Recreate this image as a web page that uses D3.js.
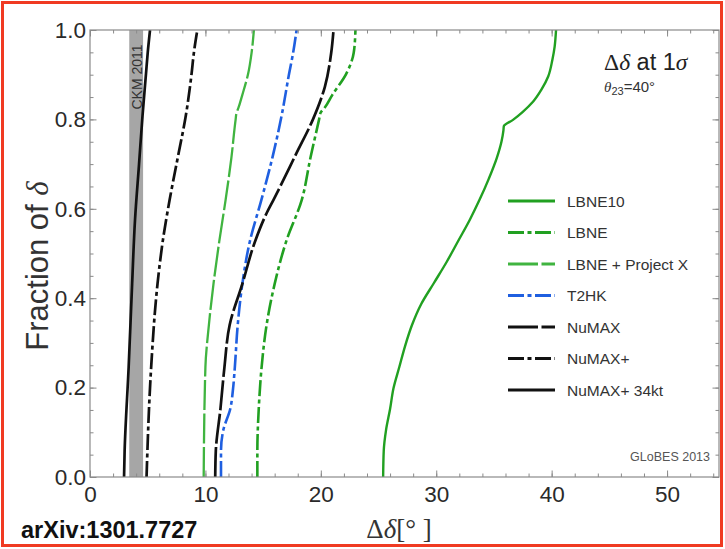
<!DOCTYPE html>
<html>
<head>
<meta charset="utf-8">
<script src="https://cdn.jsdelivr.net/npm/d3@7"></script>
<style>
body { margin: 0; background: #fff; }
svg { display: block; }
</style>
</head>
<body>
<div id="space" style="width:725px;height:549px;"></div>
<script>
// ---- data ----
var xTicks = [0, 10, 20, 30, 40, 50];
var yTicks = [0, 0.2, 0.4, 0.6, 0.8, 1.0];
var ckmBand = [3.4, 4.6];

var seriesNames = ["LBNE10", "LBNE", "LBNE + Project X", "T2HK", "NuMAX", "NuMAX+", "NuMAX+ 34kt"];

// [fraction of delta, delta delta (deg)]
var lbne10 = [[0, 25.4], [0.058, 25.45], [0.105, 25.65], [0.152, 26.0], [0.199, 26.3], [0.246, 26.8],
    [0.293, 27.3], [0.34, 27.9], [0.387, 28.7], [0.434, 29.8], [0.481, 30.9], [0.528, 31.9],
    [0.575, 32.9], [0.62, 33.75], [0.667, 34.55], [0.714, 35.25], [0.75, 35.65], [0.775, 35.82],
    [0.785, 35.86], [0.799, 36.65], [0.817, 37.5], [0.84, 38.4], [0.866, 39.1], [0.896, 39.7],
    [0.933, 40.06], [0.963, 40.26], [1.0, 40.38]];
var lbne = [[0, 14.5], [0.058, 14.5], [0.152, 14.62], [0.246, 14.87], [0.34, 15.3], [0.432, 16.0],
    [0.527, 17.0], [0.62, 18.35], [0.714, 19.1], [0.8, 19.85], [0.815, 19.98], [0.825, 20.3],
    [0.855, 21.0], [0.902, 22.2], [0.949, 22.85], [1.0, 23.0]];
var lbnePX = [[0, 9.85], [0.246, 10.0], [0.34, 10.3], [0.432, 10.7], [0.527, 11.2], [0.62, 11.75],
    [0.714, 12.25], [0.8, 12.62], [0.815, 12.7], [0.825, 12.85], [0.855, 13.2], [0.902, 13.7],
    [0.949, 14.0], [1.0, 14.2]];
var t2hk = [[0, 11.35], [0.058, 11.35], [0.105, 11.55], [0.152, 12.15], [0.199, 12.4], [0.246, 12.55],
    [0.34, 12.8], [0.432, 13.2], [0.527, 13.85], [0.62, 14.85], [0.714, 15.8], [0.808, 16.6],
    [0.902, 17.25], [0.949, 17.6], [1.0, 17.9]];
var numax = [[0, 10.85], [0.058, 10.9], [0.152, 11.3], [0.246, 11.65], [0.34, 12.1], [0.432, 13.2],
    [0.527, 14.3], [0.59, 15.3], [0.62, 15.9], [0.725, 17.9], [0.799, 19.3], [0.873, 20.35],
    [0.949, 20.9], [1.0, 21.1]];
var numaxPlus = [[0, 4.9], [0.246, 5.3], [0.432, 5.85], [0.527, 6.3], [0.62, 6.9], [0.714, 7.6],
    [0.808, 8.3], [0.902, 8.8], [0.949, 9.0], [1.0, 9.3]];
var numax34 = [[0, 2.95], [0.058, 3.0], [0.246, 3.35], [0.432, 3.65], [0.575, 3.9], [0.7, 4.25],
    [0.808, 4.55], [0.902, 4.85], [0.949, 5.0], [1.0, 5.2]];

var seriesData = [lbne10, lbne, lbnePX, t2hk, numax, numaxPlus, numax34];

// ---- styles ----
var dashDot = "16,3.5,4,3.5";
var longDash = "30,3.5";
var seriesStyle = [
    { color: "#21a021", dash: null, width: 2.4 },
    { color: "#21a021", dash: dashDot, width: 2.6 },
    { color: "#40b440", dash: longDash, width: 2.3 },
    { color: "#1f5fe0", dash: dashDot, width: 2.6 },
    { color: "#111111", dash: longDash, width: 2.7 },
    { color: "#111111", dash: dashDot, width: 2.7 },
    { color: "#111111", dash: null, width: 2.7 }
];

var svg, plot, x, y;
var margin = { left: 90, right: 719, top: 30, bottom: 477 };
var sans = "Liberation Sans, Arial, sans-serif";
var serif = "Liberation Serif, serif";

init();

function init() {
    initSvg();
    initScales();
    drawBand();
    drawCurves();
    drawAxes();
    drawTexts();
    drawLegend();
}

function initSvg() {
    svg = d3.select("#space").append("svg")
        .attr("xmlns", "http://www.w3.org/2000/svg")
        .attr("width", 725)
        .attr("height", 549);

    svg.append("rect").attr("width", 725).attr("height", 549).attr("fill", "#fff");

    //red frame round the slide picture
    svg.append("rect")
        .attr("x", 2.5).attr("y", 2.5)
        .attr("width", 719).attr("height", 543)
        .attr("fill", "none")
        .attr("stroke", "#f03a22")
        .attr("stroke-width", 3);

    svg.append("defs").append("clipPath").attr("id", "clip")
        .append("rect")
        .attr("x", margin.left).attr("y", margin.top)
        .attr("width", margin.right - margin.left)
        .attr("height", margin.bottom - margin.top);

    plot = svg.append("g").attr("clip-path", "url(#clip)");
}

function initScales() {
    x = d3.scaleLinear().domain([0, 54.5]).range([margin.left, margin.right]);
    y = d3.scaleLinear().domain([0, 1]).range([margin.bottom, margin.top]);
}

function drawBand() {
    plot.append("rect")
        .attr("x", x(ckmBand[0]))
        .attr("y", y(1))
        .attr("width", x(ckmBand[1]) - x(ckmBand[0]))
        .attr("height", y(0) - y(1))
        .attr("fill", "#a6a6a6");

    svg.append("text")
        .attr("transform", "translate(" + (x((ckmBand[0] + ckmBand[1]) / 2) + 6) + "," + 77 + ") rotate(-90)")
        .attr("text-anchor", "middle")
        .attr("font-family", sans)
        .attr("font-size", 14)
        .attr("fill", "#333")
        .text("CKM 2011");
}

function drawCurves() {
    var line = d3.line()
        .x(function (d) { return x(d[1]); })
        .y(function (d) { return y(d[0]); })
        .curve(d3.curveMonotoneY);

    for (var i = 0; i < seriesData.length; i++) {
        var st = seriesStyle[i];
        plot.append("path")
            .datum(seriesData[i])
            .attr("d", line)
            .attr("fill", "none")
            .attr("stroke", st.color)
            .attr("stroke-width", st.width)
            .attr("stroke-dasharray", st.dash);
    }
}

function drawAxes() {
    var axisColor = "#8a8a8a";
    var xMinor = d3.range(0, 55, 2);
    var yMinor = d3.range(0, 1.001, 0.05);

    //frame
    svg.append("rect")
        .attr("x", margin.left).attr("y", margin.top)
        .attr("width", margin.right - margin.left)
        .attr("height", margin.bottom - margin.top)
        .attr("fill", "none")
        .attr("stroke", axisColor)
        .attr("stroke-width", 1.2);

    var axes = [
        { gen: function () { return d3.axisBottom(x); }, pos: "translate(0," + margin.bottom + ")", major: xTicks, minor: xMinor, lab: true, isX: true },
        { gen: function () { return d3.axisTop(x); }, pos: "translate(0," + margin.top + ")", major: xTicks, minor: xMinor, lab: false, isX: true },
        { gen: function () { return d3.axisLeft(y); }, pos: "translate(" + margin.left + ",0)", major: yTicks, minor: yMinor, lab: true, isX: false },
        { gen: function () { return d3.axisRight(y); }, pos: "translate(" + margin.right + ",0)", major: yTicks, minor: yMinor, lab: false, isX: false }
    ];

    for (var i = 0; i < axes.length; i++) {
        var a = axes[i];
        var gMinor = svg.append("g").attr("transform", a.pos)
            .call(a.gen().tickValues(a.minor).tickSize(-3.5).tickFormat(""));
        gMinor.select(".domain").remove();
        gMinor.selectAll("line").attr("stroke", axisColor);

        var gen = a.gen().tickValues(a.major).tickSize(-6.5)
            .tickPadding(a.isX ? 9.5 : 4)
            .tickFormat(a.lab ? (a.isX ? d3.format("d") : d3.format(".1f")) : "");
        var gMajor = svg.append("g").attr("transform", a.pos).call(gen);
        gMajor.select(".domain").remove();
        gMajor.selectAll("line").attr("stroke", axisColor);
        gMajor.selectAll("text")
            .attr("font-family", sans)
            .attr("font-size", 22.5)
            .attr("fill", "#2a2a2a");
    }
}

function drawTexts() {
    // y axis title
    var yt = svg.append("text")
        .attr("transform", "translate(48,266) rotate(-90)")
        .attr("text-anchor", "middle")
        .attr("font-family", sans)
        .attr("font-size", 31)
        .attr("fill", "#333");
    yt.append("tspan").text("Fraction of ");
    yt.append("tspan").attr("font-family", serif).attr("font-style", "italic").text("δ");

    // x axis title
    var xt = svg.append("text")
        .attr("x", 399).attr("y", 538)
        .attr("text-anchor", "middle")
        .attr("font-family", serif)
        .attr("font-size", 27)
        .attr("fill", "#333");
    xt.append("tspan").text("Δ");
    xt.append("tspan").attr("font-style", "italic").text("δ");
    xt.append("tspan").text("[° ]");

    // title
    var tt = svg.append("text")
        .attr("x", 604).attr("y", 70)
        .attr("font-family", sans)
        .attr("font-size", 23.5)
        .attr("fill", "#222");
    tt.append("tspan").attr("font-family", serif).text("Δ");
    tt.append("tspan").attr("font-family", serif).attr("font-style", "italic").text("δ");
    tt.append("tspan").text(" at 1");
    tt.append("tspan").attr("font-family", serif).attr("font-style", "italic").text("σ");

    var th = svg.append("text")
        .attr("x", 604).attr("y", 92)
        .attr("font-family", sans)
        .attr("font-size", 15)
        .attr("fill", "#333");
    th.append("tspan").attr("font-family", serif).attr("font-style", "italic").text("θ");
    th.append("tspan").attr("font-size", 11).attr("dy", 3).text("23");
    th.append("tspan").attr("dy", -3).text("=40°");

    svg.append("text")
        .attr("x", 710).attr("y", 461)
        .attr("text-anchor", "end")
        .attr("font-family", sans)
        .attr("font-size", 12.5)
        .attr("fill", "#555")
        .text("GLoBES 2013");

    svg.append("text")
        .attr("x", 21).attr("y", 538)
        .attr("font-family", sans)
        .attr("font-weight", "bold")
        .attr("font-size", 23.5)
        .attr("fill", "#111")
        .text("arXiv:1301.7727");
}

function drawLegend() {
    var lx = 508, tx = 567, y0 = 201, dy = 31.5;
    for (var i = 0; i < seriesNames.length; i++) {
        var st = seriesStyle[i];
        var yy = y0 + dy * i;
        svg.append("line")
            .attr("x1", lx).attr("x2", lx + 47)
            .attr("y1", yy).attr("y2", yy)
            .attr("stroke", st.color)
            .attr("stroke-width", 3)
            .attr("stroke-dasharray", st.dash);
        svg.append("text")
            .attr("x", tx).attr("y", yy + 5.5)
            .attr("font-family", sans)
            .attr("font-size", 15.5)
            .attr("fill", "#333")
            .text(seriesNames[i]);
    }
}
</script>
</body>
</html>
